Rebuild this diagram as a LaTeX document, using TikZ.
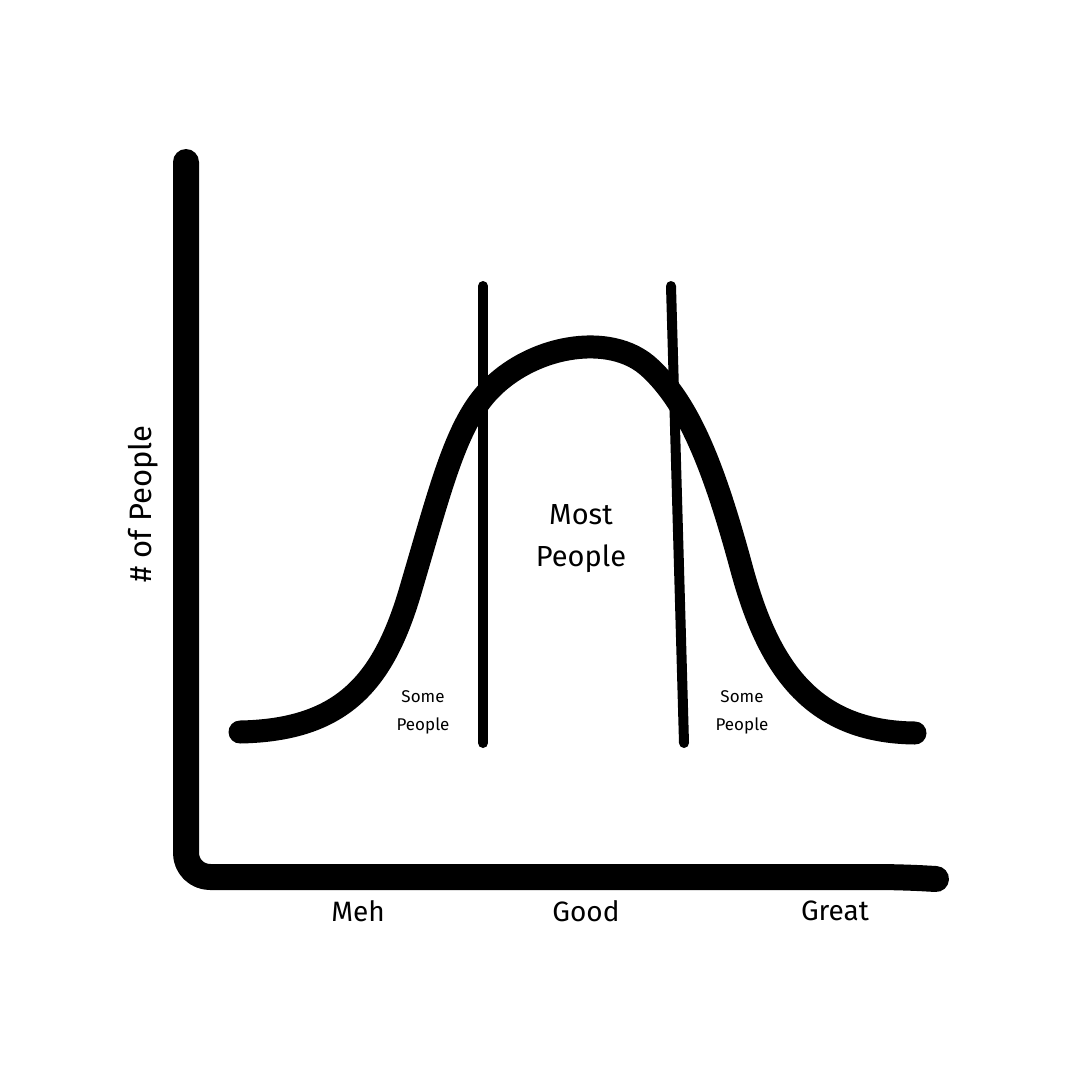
\documentclass[tikz,border=0pt]{standalone}
\usepackage{fontspec}
\setmainfont{Fira Sans}
\begin{document}
\begin{tikzpicture}[x=1pt,y=-1pt,
  axisline/.style={line width=26pt,line cap=round,line join=round},
  bellline/.style={line width=23pt,line cap=round,line join=round},
  divider/.style={line width=10pt,line cap=round},
  biglabel/.style={font=\fontsize{28}{32}\selectfont,inner sep=0pt},
  ylabel/.style={font=\fontsize{31}{34}\selectfont,inner sep=0pt},
  midlabel/.style={font=\fontsize{29}{42}\selectfont,inner sep=0pt,align=center},
  smalllabel/.style={font=\fontsize{17}{28}\selectfont,inner sep=0pt,align=center}]
\useasboundingbox (0,0) rectangle (1080,1080);
\fill[white] (0,0) rectangle (1080,1080);
% axes
\coordinate (ytop) at (186,162);
\coordinate (corner) at (186,877);
\coordinate (xend) at (936,879);
\draw[axisline,rounded corners=24pt] (ytop) -- (corner) -- (900,877) -- (xend);
% bell curve
\coordinate (bstart) at (240,732);
\coordinate (bend) at (915,733);
\draw[bellline] (bstart) .. controls (345,730) and (385,680) .. (412,585)
  .. controls (440,490) and (455,430) .. (485,395)
  .. controls (527,346) and (610,330) .. (650,368)
  .. controls (690,405) and (715,470) .. (742,570)
  .. controls (768,665) and (810,732) .. (bend);
% dividers
\coordinate (l1) at (483,286); \coordinate (l2) at (483,743);
\coordinate (r1) at (671,286); \coordinate (r2) at (684,743);
\draw[divider] (l1) -- (l2);
\draw[divider] (r1) -- (r2);
% labels
\node[biglabel] (meh) at (358,911) {Meh};
\node[biglabel] (good) at (586,911) {Good};
\node[biglabel] (great) at (835,911) {Great};
\node[ylabel,rotate=90] (ylab) at (143,504) {\# of People};
\node[midlabel] (most) at (581,539) {Most\\People};
\node[smalllabel] (somel) at (423,712) {Some\\People};
\node[smalllabel] (somer) at (742,712) {Some\\People};
\end{tikzpicture}
\end{document}
